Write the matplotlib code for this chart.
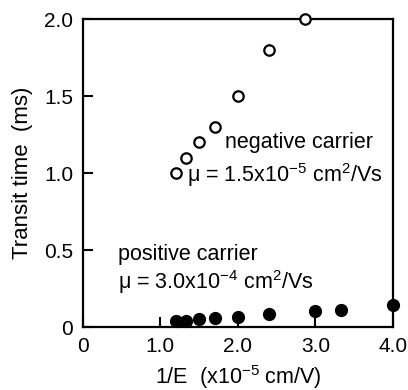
import matplotlib
matplotlib.use("Agg")
import matplotlib.pyplot as plt

plt.rcParams['font.family'] = ['Liberation Sans', 'DejaVu Sans']
plt.rcParams['mathtext.fontset'] = 'custom'
plt.rcParams['mathtext.rm'] = 'Liberation Sans'
plt.rcParams['mathtext.it'] = 'Liberation Sans'
plt.rcParams['mathtext.default'] = 'regular'

# negative carrier (open circles)
neg_x = [1.2, 1.33, 1.5, 1.7, 2.0, 2.4, 2.86]
neg_y = [1.0, 1.1, 1.2, 1.3, 1.5, 1.8, 2.0]
# positive carrier (filled circles)
pos_x = [1.2, 1.33, 1.5, 1.7, 2.0, 2.4, 3.0, 3.33, 4.0]
pos_y = [0.04, 0.04, 0.055, 0.057, 0.066, 0.087, 0.105, 0.114, 0.142]

xticks = [0, 1.0, 2.0, 3.0, 4.0]
xticklabels = ['0', '1.0', '2.0', '3.0', '4.0']
yticks = [0, 0.5, 1.0, 1.5, 2.0]
yticklabels = ['0', '0.5', '1.0', '1.5', '2.0']

fig = plt.figure(figsize=(4.08, 3.90), dpi=100)
ax = fig.add_axes([0.203, 0.161, 0.760, 0.790])

ax.plot(neg_x, neg_y, 'o', mfc='white', mec='black', mew=1.6, ms=7.5, clip_on=False, zorder=5)
ax.plot(pos_x, pos_y, 'o', mfc='black', mec='black', ms=8.5, clip_on=False, zorder=5)

ax.set_xlim(0, 4.0)
ax.set_ylim(0, 2.0)
ax.set_xticks(xticks)
ax.set_xticklabels(xticklabels)
ax.set_yticks(yticks)
ax.set_yticklabels(yticklabels)
ax.tick_params(direction='in', length=7, width=1.5, labelsize=15, pad=7)

for s in ax.spines.values():
    s.set_linewidth(1.6)

ax.set_ylabel('Transit time  (ms)', fontsize=16, labelpad=8)
ax.set_xlabel('1/E  (x10$^{-5}$ cm/V)', fontsize=15.5, labelpad=5)

ax.text(1.83, 1.2, 'negative carrier', fontsize=15.5, va='center', ha='left')
ax.text(1.35, 0.99, 'μ = 1.5x10$^{-5}$ cm$^{2}$/Vs', fontsize=15.5, va='center', ha='left')
ax.text(0.45, 0.47, 'positive carrier', fontsize=15.5, va='center', ha='left')
ax.text(0.45, 0.29, 'μ = 3.0x10$^{-4}$ cm$^{2}$/Vs', fontsize=15.5, va='center', ha='left')

fig.savefig('out.png', dpi=100)
